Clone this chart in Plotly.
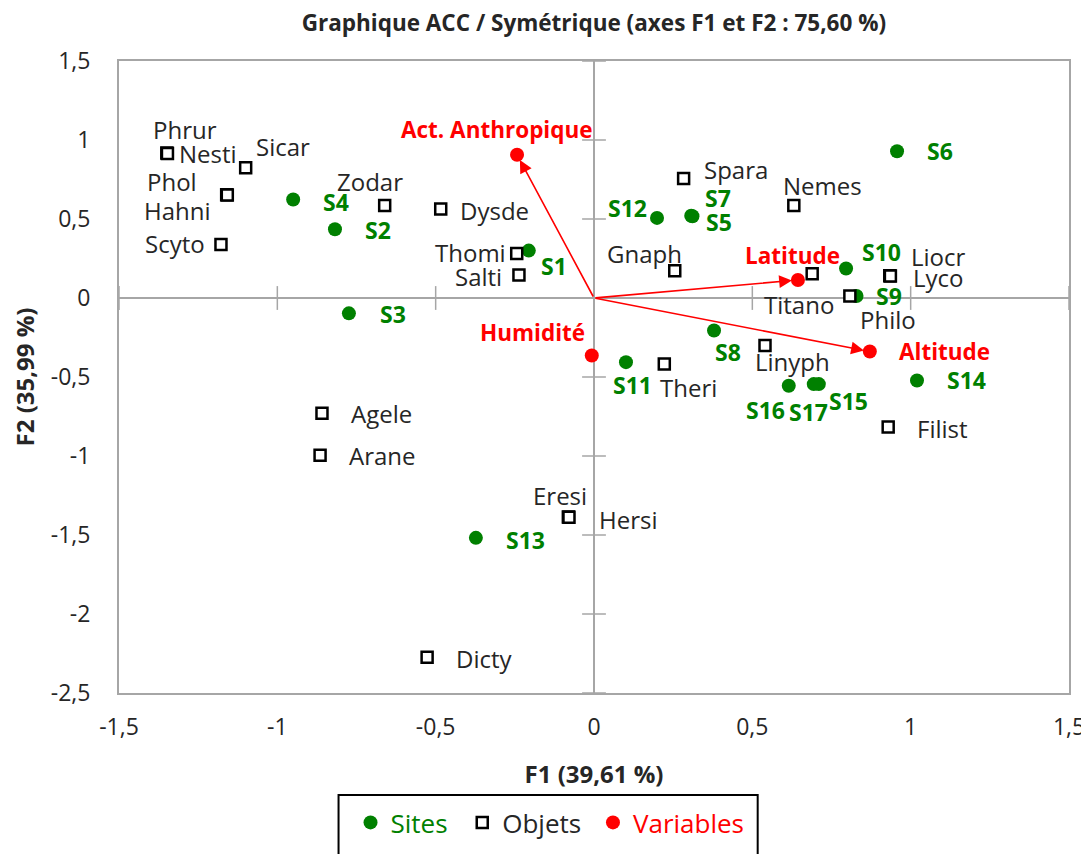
import plotly.graph_objects as go

# ---------------- data ----------------
site_names = ["S1", "S2", "S3", "S4", "S5", "S6", "S7", "S8", "S9", "S10",
              "S11", "S12", "S13", "S14", "S15", "S16", "S17"]
site_f1 = [-0.206, -0.818, -0.774, -0.950, 0.311, 0.957, 0.307, 0.379, 0.829, 0.796,
           0.101, 0.199, -0.373, 1.020, 0.710, 0.615, 0.694]
site_f2 = [0.300, 0.435, -0.097, 0.623, 0.517, 0.929, 0.521, -0.206, 0.013, 0.187,
           -0.406, 0.507, -1.518, -0.522, -0.545, -0.555, -0.545]

obj_names = ["Phrur", "Nesti", "Sicar", "Phol", "Hahni", "Scyto", "Zodar", "Dysde",
             "Thomi", "Salti", "Agele", "Arane", "Eresi", "Hersi", "Dicty", "Spara",
             "Nemes", "Gnaph", "Titano", "Philo", "Liocr", "Lyco", "Theri", "Linyph",
             "Filist"]
obj_f1 = [-1.349, -1.347, -1.100, -1.160, -1.158, -1.178, -0.661, -0.484,
          -0.244, -0.237, -0.859, -0.865, -0.081, -0.079, -0.527, 0.283,
          0.631, 0.255, 0.689, 0.808, 0.934, 0.936, 0.222, 0.540, 0.929]
obj_f2 = [0.917, 0.915, 0.825, 0.654, 0.652, 0.339, 0.585, 0.563,
          0.282, 0.145, -0.730, -0.995, -1.386, -1.388, -2.273, 0.757,
          0.585, 0.172, 0.153, 0.013, 0.141, 0.139, -0.418, -0.301, -0.816]

var_names = ["Act. Anthropique", "Latitude", "Altitude", "Humidité"]
var_f1 = [-0.243, 0.644, 0.871, -0.007]
var_f2 = [0.907, 0.114, -0.339, -0.364]
var_arrow = [True, True, True, False]

x_tick_vals = [-1.5, -1, -0.5, 0, 0.5, 1, 1.5]
x_tick_text = ["-1,5", "-1", "-0,5", "0", "0,5", "1", "1,5"]
y_tick_vals = [-2.5, -2, -1.5, -1, -0.5, 0, 0.5, 1, 1.5]
y_tick_text = ["-2,5", "-2", "-1,5", "-1", "-0,5", "0", "0,5", "1", "1,5"]

legend_names = ["Sites", "Objets", "Variables"]

title_text = "Graphique ACC / Symétrique (axes F1 et F2 : 75,60 %)"
x_title = "F1 (39,61 %)"
y_title = "F2 (35,99 %)"

# ---------------- label placement (pixels) ----------------
label_pos = {
    # sites
    "S1": ("left", 10, -15), "S2": ("left", 28, -1), "S3": ("left", 29, -1),
    "S4": ("left", 28, -2), "S5": ("left", 12, -6), "S6": ("left", 28, 0),
    "S7": ("left", 12, 18), "S8": ("center", 14, -21), "S9": ("left", 17, 0),
    "S10": ("left", 14, 16), "S11": ("center", 7, -23), "S12": ("right", -8, 10),
    "S13": ("left", 28, -2), "S14": ("left", 28, 0), "S15": ("center", 30, -17),
    "S16": ("center", -23, -24), "S17": ("center", -5, -28),
    # objects
    "Phrur": ("center", 18, 24), "Nesti": ("left", 10, 0), "Sicar": ("left", 8, 21),
    "Phol": ("right", -28, 13), "Hahni": ("right", -14, -16), "Scyto": ("right", -14, 1),
    "Zodar": ("center", -15, 24), "Dysde": ("left", 17, -1), "Thomi": ("right", -9, 1),
    "Salti": ("right", -15, -1), "Agele": ("left", 27, 0), "Arane": ("left", 27, 0),
    "Eresi": ("center", -8, 21), "Hersi": ("left", 28, -2), "Dicty": ("left", 27, -1),
    "Spara": ("left", 18, 9), "Nemes": ("center", 29, 20), "Gnaph": ("center", -30, 17),
    "Titano": ("center", -13, -31), "Philo": ("center", 38, -24), "Liocr": ("left", 19, 19),
    "Lyco": ("left", 21, -1), "Theri": ("left", -6, -23), "Linyph": ("center", 27, -16),
    "Filist": ("left", 27, -2),
    # variables
    "Act. Anthropique": ("center", -20, 25), "Latitude": ("center", -5, 24),
    "Altitude": ("left", 27, 0), "Humidité": ("right", -5, 23),
}

GREEN = "#008000"
RED = "#FF0000"
GREY = "#A6A6A6"
TXT = "#262626"
FONT = "Open Sans"

fig = go.Figure()

# tick marks crossing the central axes
fig.add_trace(go.Scatter(
    x=[v for v in x_tick_vals if v != 0], y=[0] * (len(x_tick_vals) - 1),
    mode="markers", marker=dict(symbol="line-ns", size=17, line=dict(color=GREY, width=1.5)),
    showlegend=False, hoverinfo="skip"))
fig.add_trace(go.Scatter(
    x=[0] * (len(y_tick_vals) - 1), y=[v for v in y_tick_vals if v != 0],
    mode="markers", marker=dict(symbol="line-ew", size=17, line=dict(color=GREY, width=1.5)),
    showlegend=False, hoverinfo="skip"))

fig.add_trace(go.Scatter(
    x=site_f1, y=site_f2, mode="markers", name=legend_names[0], legend="legend",
    marker=dict(symbol="circle", size=14, color=GREEN), text=site_names))
fig.add_trace(go.Scatter(
    x=obj_f1, y=obj_f2, mode="markers", name=legend_names[1], legend="legend2",
    marker=dict(symbol="square", size=11, color="white", line=dict(color="black", width=2.5)),
    text=obj_names))
fig.add_trace(go.Scatter(
    x=var_f1, y=var_f2, mode="markers", name=legend_names[2], legend="legend3",
    marker=dict(symbol="circle", size=14, color=RED), text=var_names))

annotations = []
# arrows
for name, vx, vy, draw in zip(var_names, var_f1, var_f2, var_arrow):
    if draw:
        annotations.append(dict(
            x=vx, y=vy, ax=0, ay=0, xref="x", yref="y", axref="x", ayref="y",
            text="", showarrow=True, arrowhead=2, arrowsize=1.6, arrowwidth=1.6,
            arrowcolor=RED, standoff=6))

def add_labels(names, xs, ys, color, bold, size):
    for n, x, y in zip(names, xs, ys):
        anchor, dx, dy = label_pos[n]
        annotations.append(dict(
            x=x, y=y, xref="x", yref="y", text=f"<b>{n}</b>" if bold else n,
            showarrow=False, xanchor=anchor, yanchor="middle", xshift=dx, yshift=dy,
            font=dict(family=FONT, size=size, color=color)))

add_labels(site_names, site_f1, site_f2, GREEN, True, 23)
add_labels(obj_names, obj_f1, obj_f2, TXT, False, 24)
add_labels(var_names, var_f1, var_f2, RED, True, 22.5)

def leg(x, color):
    return dict(orientation="h", x=x, xanchor="left", y=-0.1677, yanchor="top",
                borderwidth=0, bgcolor="rgba(0,0,0,0)",
                font=dict(family=FONT, size=26, color=color), itemsizing="trace")

fig.update_layout(
    width=1089, height=854,
    margin=dict(l=109, r=28, t=53, b=169),
    paper_bgcolor="white", plot_bgcolor="white",
    title=dict(text=f"<b>{title_text}</b>", x=0.538, xanchor="center", y=0.9824, yanchor="middle",
               font=dict(family=FONT, size=22.5, color=TXT)),
    font=dict(family=FONT, color=TXT),
    annotations=annotations,
    showlegend=True,
    legend=leg(0.2437, GREEN),
    legend2=leg(0.3613, TXT),
    legend3=leg(0.4989, RED),
    shapes=[dict(type="rect", xref="paper", yref="paper",
                 x0=0.2311, x1=0.6723, y0=-0.1614, y1=-0.32,
                 line=dict(color="black", width=2), fillcolor="rgba(0,0,0,0)", layer="below")],
)
fig.update_xaxes(
    range=[-1.5, 1.5], tickvals=x_tick_vals, ticktext=x_tick_text,
    showgrid=False, zeroline=True, zerolinecolor=GREY, zerolinewidth=1.5,
    showline=True, linecolor=GREY, linewidth=2, mirror=True, ticks="",
    ticklabelstandoff=12, tickfont=dict(family=FONT, size=23, color=TXT),
    title=dict(text=f"<b>{x_title}</b>", font=dict(family=FONT, size=24, color=TXT), standoff=26))
fig.update_yaxes(
    range=[-2.5, 1.5], tickvals=y_tick_vals, ticktext=y_tick_text,
    showgrid=False, zeroline=True, zerolinecolor=GREY, zerolinewidth=1.5,
    showline=True, linecolor=GREY, linewidth=2, mirror=True, ticks="",
    ticklabelstandoff=22, tickfont=dict(family=FONT, size=23, color=TXT),
    title=dict(text=f"<b>{y_title}</b>", font=dict(family=FONT, size=24, color=TXT), standoff=14))

fig.write_html("out.html")
